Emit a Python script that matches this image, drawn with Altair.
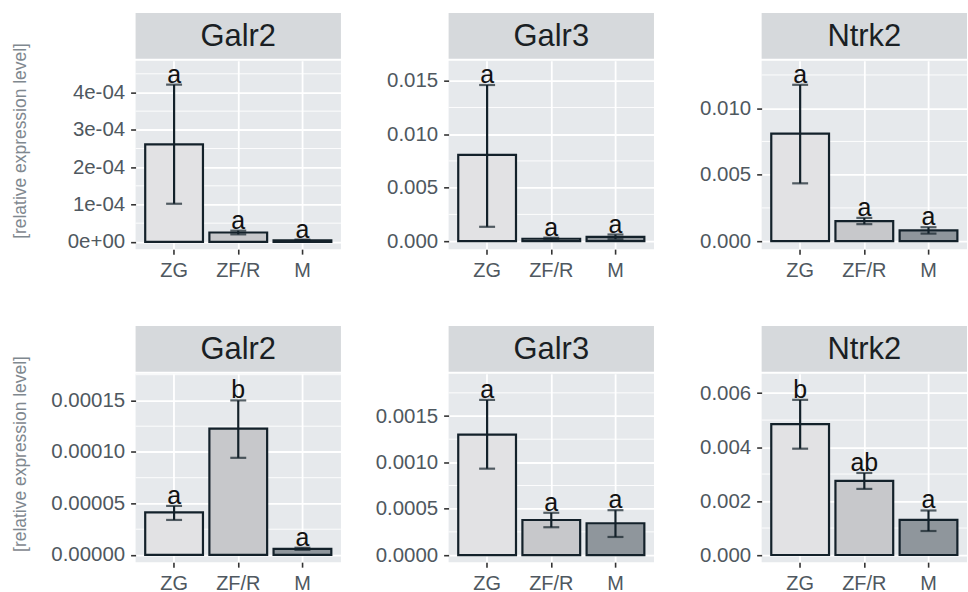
import altair as alt
import pandas as pd

groups = ["ZG", "ZF/R", "M"]
genes = ["Galr2", "Galr3", "Ntrk2", "Galr2", "Galr3", "Ntrk2"]

means = [
    [2.61e-4, 2.5e-5, 4e-6],
    [0.00806, 0.00022, 0.00040],
    [0.00809, 0.00151, 0.00081],
    [4.13e-5, 1.226e-4, 6e-6],
    [0.00130, 0.000378, 0.000343],
    [0.00485, 0.00275, 0.00130],
]
lows = [
    [1.02e-4, 2.0e-5, 3e-6],
    [0.00134, 0.00012, 0.00018],
    [0.00435, 0.00128, 0.00057],
    [3.4e-5, 9.43e-5, 5e-6],
    [0.000932, 0.000300, 0.000195],
    [0.00394, 0.00245, 0.00089],
]
highs = [
    [4.21e-4, 3.0e-5, 6e-6],
    [0.01460, 0.00032, 0.00062],
    [0.01176, 0.00175, 0.00105],
    [4.76e-5, 1.50e-4, 7e-6],
    [0.001674, 0.000456, 0.000484],
    [0.00575, 0.00304, 0.00165],
]
letters = [
    ["a", "a", "a"],
    ["a", "a", "a"],
    ["a", "a", "a"],
    ["a", "b", "a"],
    ["a", "a", "a"],
    ["b", "ab", "a"],
]
y_domains = [
    [-1.96e-5, 4.85e-4],
    [-0.00075, 0.01687],
    [-0.0006, 0.01357],
    [-0.7e-5, 1.759e-4],
    [-0.000077, 0.001956],
    [-0.000265, 0.006716],
]
y_ticks = [
    [0, 1e-4, 2e-4, 3e-4, 4e-4],
    [0, 0.005, 0.010, 0.015],
    [0, 0.005, 0.010],
    [0, 5e-5, 1e-4, 1.5e-4],
    [0, 0.0005, 0.0010, 0.0015],
    [0, 0.002, 0.004, 0.006],
]
y_minor = [
    [0.5e-4, 1.5e-4, 2.5e-4, 3.5e-4, 4.5e-4],
    [0.0025, 0.0075, 0.0125],
    [0.0025, 0.0075, 0.0125],
    [2.5e-5, 7.5e-5, 1.25e-4, 1.75e-4],
    [0.00025, 0.00075, 0.00125, 0.00175],
    [0.001, 0.003, 0.005],
]
y_label_expr = [
    "datum.value == 0 ? '0e+00' : replace(format(datum.value, '.0e'), 'e-', 'e-0')",
    "format(datum.value, '.3f')",
    "format(datum.value, '.3f')",
    "format(datum.value, '.5f')",
    "format(datum.value, '.4f')",
    "format(datum.value, '.3f')",
]
fills = ["#e2e2e4", "#c7c8cb", "#8f969c"]

FONT = "Liberation Sans"
PANEL = "#e6e9ec"
STRIP = "#d6d9dc"
DARK = "#13212a"
LABEL = "#4f5860"
W = 206
PH = 189
SH = 46
YEXT = 86


def panel(i):
    df = pd.DataFrame({
        "group": groups,
        "y": means[i],
        "lo": lows[i],
        "hi": highs[i],
        "label": letters[i],
    })
    minor_df = pd.DataFrame({"y": y_minor[i]})
    first = i % 3 == 0
    axis_kw = dict(
        values=y_ticks[i], labelExpr=y_label_expr[i], grid=True, gridColor="white",
        gridWidth=1.8, domain=False, tickSize=5, tickColor="#333333", tickWidth=1.6,
        labelFontSize=20.5, labelColor=LABEL, labelFont=FONT, labelPadding=6,
        minExtent=YEXT, maxExtent=YEXT,
    )
    if first:
        axis_kw.update(
            title="[relative expression level]", titleX=-115, titleY=80, titleAngle=270,
            titleAlign="center", titleBaseline="middle", titleFontSize=17.5,
            titleFontWeight="normal", titleColor="#7f888f", titleFont=FONT,
        )
        ytitle = "[relative expression level]"
    else:
        axis_kw.update(title=None)
        ytitle = None
    yaxis = alt.Axis(**axis_kw)
    yscale = alt.Scale(domain=y_domains[i], nice=False, zero=False)
    xaxis = alt.Axis(
        title=None, grid=True, gridColor="white", gridWidth=1.8, domain=False,
        tickSize=5, tickColor="#333333", tickWidth=1.6, labelFontSize=20,
        labelColor=LABEL, labelFont=FONT, labelPadding=6, labelAngle=0,
        minExtent=30, maxExtent=30,
    )
    xenc = alt.X("group:N", sort=groups,
                 scale=alt.Scale(domain=groups, paddingInner=0.1, paddingOuter=0.15),
                 axis=xaxis)

    def Y(field):
        return alt.Y(field, scale=yscale, axis=yaxis, title=ytitle)

    minor = alt.Chart(minor_df).mark_rule(color="white", strokeWidth=0.9).encode(y=Y("y:Q"))
    base = alt.Chart(df).encode(x=xenc)
    bars = base.mark_bar(stroke=DARK, strokeWidth=2.2).encode(
        y=Y("y:Q"),
        color=alt.Color("group:N", scale=alt.Scale(domain=groups, range=fills), legend=None),
    )
    err = base.mark_rule(color=DARK, strokeWidth=2.2).encode(y=Y("lo:Q"), y2="hi:Q")
    cap_hi = base.mark_tick(color=DARK, orient="horizontal", size=16, thickness=2.2).encode(y=Y("hi:Q"))
    cap_lo = base.mark_tick(color=DARK, orient="horizontal", size=16, thickness=2.2).encode(y=Y("lo:Q"))
    txt = base.mark_text(baseline="alphabetic", dy=-2, fontSize=25, font=FONT, color="#111111").encode(
        y=Y("hi:Q"), text="label:N"
    )
    plot = alt.layer(minor, bars, err, cap_hi, cap_lo, txt).properties(width=W, height=PH)

    strip = alt.Chart(pd.DataFrame({"gene": [genes[i]]})).mark_text(
        fontSize=31, font=FONT, color="#1a1f24", baseline="middle", align="center"
    ).encode(
        text="gene:N", x=alt.value(W / 2), y=alt.value(SH / 2 + 1)
    ).properties(width=W, height=SH, view=alt.ViewBackground(fill=STRIP, stroke=None))

    return alt.vconcat(strip, plot, spacing=2, bounds="flush")


row1 = alt.hconcat(panel(0), panel(1), panel(2), spacing=107 - YEXT)
row2 = alt.hconcat(panel(3), panel(4), panel(5), spacing=107 - YEXT)

chart = alt.vconcat(row1, row2, spacing=46).properties(
    padding={"left": 12, "top": 12, "right": 0, "bottom": 0},
    background="white",
).configure_view(fill=PANEL, stroke=None)

chart.save("out.html", embed_options={"renderer": "svg", "actions": False})
